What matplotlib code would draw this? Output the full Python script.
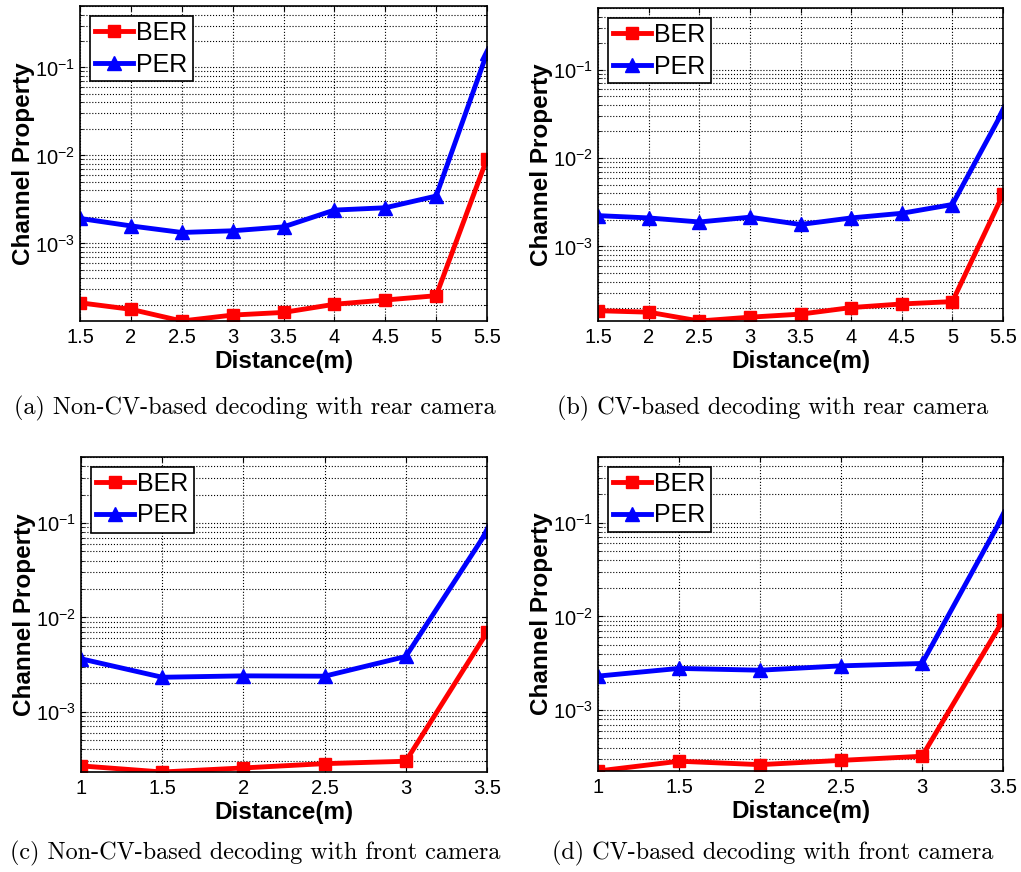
import matplotlib
matplotlib.use("Agg")
import matplotlib.pyplot as plt
import numpy as np

# distances
dist_rear = [1.5, 2, 2.5, 3, 3.5, 4, 4.5, 5, 5.5]
dist_front = [1, 1.5, 2, 2.5, 3, 3.5]
rear_ticks = ['1.5', '2', '2.5', '3', '3.5', '4', '4.5', '5', '5.5']
front_ticks = ['1', '1.5', '2', '2.5', '3', '3.5']

# (a) non-CV, rear camera
ber_a = [2.11e-4, 1.78e-4, 1.31e-4, 1.53e-4, 1.64e-4, 2.03e-4, 2.27e-4, 2.54e-4, 9.2e-3]
per_a = [1.92e-3, 1.58e-3, 1.33e-3, 1.39e-3, 1.54e-3, 2.39e-3, 2.54e-3, 3.45e-3, 0.146]
# (b) CV, rear camera
ber_b = [1.87e-4, 1.80e-4, 1.43e-4, 1.58e-4, 1.71e-4, 2.03e-4, 2.23e-4, 2.37e-4, 3.87e-3]
per_b = [2.23e-3, 2.10e-3, 1.89e-3, 2.14e-3, 1.77e-3, 2.10e-3, 2.37e-3, 2.98e-3, 3.42e-2]
# (c) non-CV, front camera
ber_c = [2.67e-4, 2.30e-4, 2.54e-4, 2.82e-4, 2.99e-4, 6.93e-3]
per_c = [3.64e-3, 2.32e-3, 2.40e-3, 2.38e-3, 3.85e-3, 8.15e-2]
# (d) CV, front camera
ber_d = [2.25e-4, 2.86e-4, 2.63e-4, 2.92e-4, 3.23e-4, 9.06e-3]
per_d = [2.31e-3, 2.79e-3, 2.67e-3, 2.97e-3, 3.15e-3, 0.118]

captions = ['(a) Non-CV-based decoding with rear camera',
            '(b) CV-based decoding with rear camera',
            '(c) Non-CV-based decoding with front camera',
            '(d) CV-based decoding with front camera']

plt.rcParams['font.family'] = ['Liberation Sans', 'DejaVu Sans']

W, H = 1021, 872
fig = plt.figure(figsize=(W / 100, H / 100), dpi=100)

# axes boxes in pixels: left, right, top, bottom
boxes = [(80, 487, 6, 321), (598, 1003, 8, 321),
         (81, 487, 457, 772), (598, 1003, 457, 771)]
panels = [(dist_rear, rear_ticks, ber_a, per_a),
          (dist_rear, rear_ticks, ber_b, per_b),
          (dist_front, front_ticks, ber_c, per_c),
          (dist_front, front_ticks, ber_d, per_d)]
cap_pos = [(255, 408), (773, 408), (255, 853), (773, 853)]

for i, (box, (x, xt, ber, per)) in enumerate(zip(boxes, panels)):
    l, r, t, b = box
    ax = fig.add_axes([l / W, 1 - b / H, (r - l) / W, (b - t) / H])
    ax.plot(x, ber, color='red', lw=3.5, marker='s', ms=8, label='BER')
    ax.plot(x, per, color='blue', lw=3.5, marker='^', ms=10, label='PER')
    ax.set_yscale('log')
    ax.set_ylim(min(ber), 0.5)
    ax.set_xlim(x[0], x[-1])
    ax.set_xticks(x)
    ax.set_xticklabels(xt)
    ax.grid(True, which='major', color='black', ls=':', lw=0.8)
    ax.grid(True, which='minor', axis='y', color='black', ls=':', lw=0.8)
    ax.tick_params(which='both', direction='in', top=True, right=True, labelsize=14.5)
    ax.tick_params(axis='x', pad=5)
    ax.set_xlabel('Distance(m)', fontsize=17.5, fontweight='bold', labelpad=2)
    ax.set_ylabel('Channel Property', fontsize=17.5, fontweight='bold', labelpad=0)
    for s in ax.spines.values():
        s.set_linewidth(1.2)
    leg = ax.legend(loc='upper left', fontsize=18, handlelength=1.5, handletextpad=0.15,
                    borderpad=0.2, labelspacing=0.3, fancybox=False, framealpha=1,
                    borderaxespad=0.4)
    leg.get_frame().set_edgecolor('black')
    leg.get_frame().set_linewidth(1.2)
    cx, cy = cap_pos[i]
    fig.text(cx / W, 1 - cy / H, captions[i], ha='center', va='center',
             fontsize=17.4, family=['cmr10', 'DejaVu Serif'])

fig.savefig('out.png', dpi=100)
